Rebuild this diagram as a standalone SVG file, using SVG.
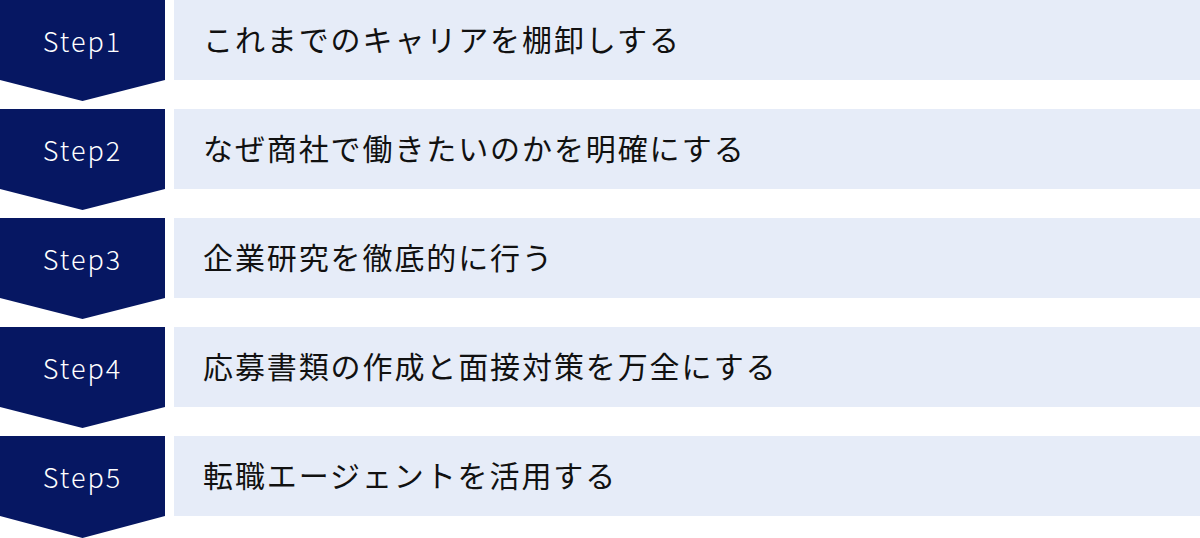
<svg xmlns="http://www.w3.org/2000/svg" width="1200" height="538" viewBox="0 0 1200 538">
<style>
.chev{fill:#061762}
.box{fill:#E6ECF8}
.step{font-family:"Noto Sans CJK JP","Noto Sans",sans-serif;font-size:27px;font-weight:300;fill:#ffffff;text-anchor:middle;letter-spacing:2px}
.lbl{font-family:"Noto Sans CJK JP","Noto Sans",sans-serif;font-size:30px;fill:#111111;letter-spacing:1.9px}
</style>
<rect width="1200" height="538" fill="#ffffff"/>
<g id="connectors"></g>
<g id="step1">
<path class="chev" d="M0 0H165V80L82.5 101L0 80Z"/>
<rect class="box" x="174" y="0" width="1026" height="80"/>
<text class="step" x="82.5" y="52">Step1</text>
<text class="lbl" x="203" y="51">これまでのキャリアを棚卸しする</text>
</g>
<g id="step2" transform="translate(0,109)">
<path class="chev" d="M0 0H165V80L82.5 101L0 80Z"/>
<rect class="box" x="174" y="0" width="1026" height="80"/>
<text class="step" x="82.5" y="52">Step2</text>
<text class="lbl" x="203" y="51">なぜ商社で働きたいのかを明確にする</text>
</g>
<g id="step3" transform="translate(0,218)">
<path class="chev" d="M0 0H165V80L82.5 101L0 80Z"/>
<rect class="box" x="174" y="0" width="1026" height="80"/>
<text class="step" x="82.5" y="52">Step3</text>
<text class="lbl" x="203" y="51">企業研究を徹底的に行う</text>
</g>
<g id="step4" transform="translate(0,327)">
<path class="chev" d="M0 0H165V80L82.5 101L0 80Z"/>
<rect class="box" x="174" y="0" width="1026" height="80"/>
<text class="step" x="82.5" y="52">Step4</text>
<text class="lbl" x="203" y="51">応募書類の作成と面接対策を万全にする</text>
</g>
<g id="step5" transform="translate(0,436)">
<path class="chev" d="M0 0H165V80L82.5 102L0 80Z"/>
<rect class="box" x="174" y="0" width="1026" height="80"/>
<text class="step" x="82.5" y="52">Step5</text>
<text class="lbl" x="203" y="51">転職エージェントを活用する</text>
</g>
</svg>
